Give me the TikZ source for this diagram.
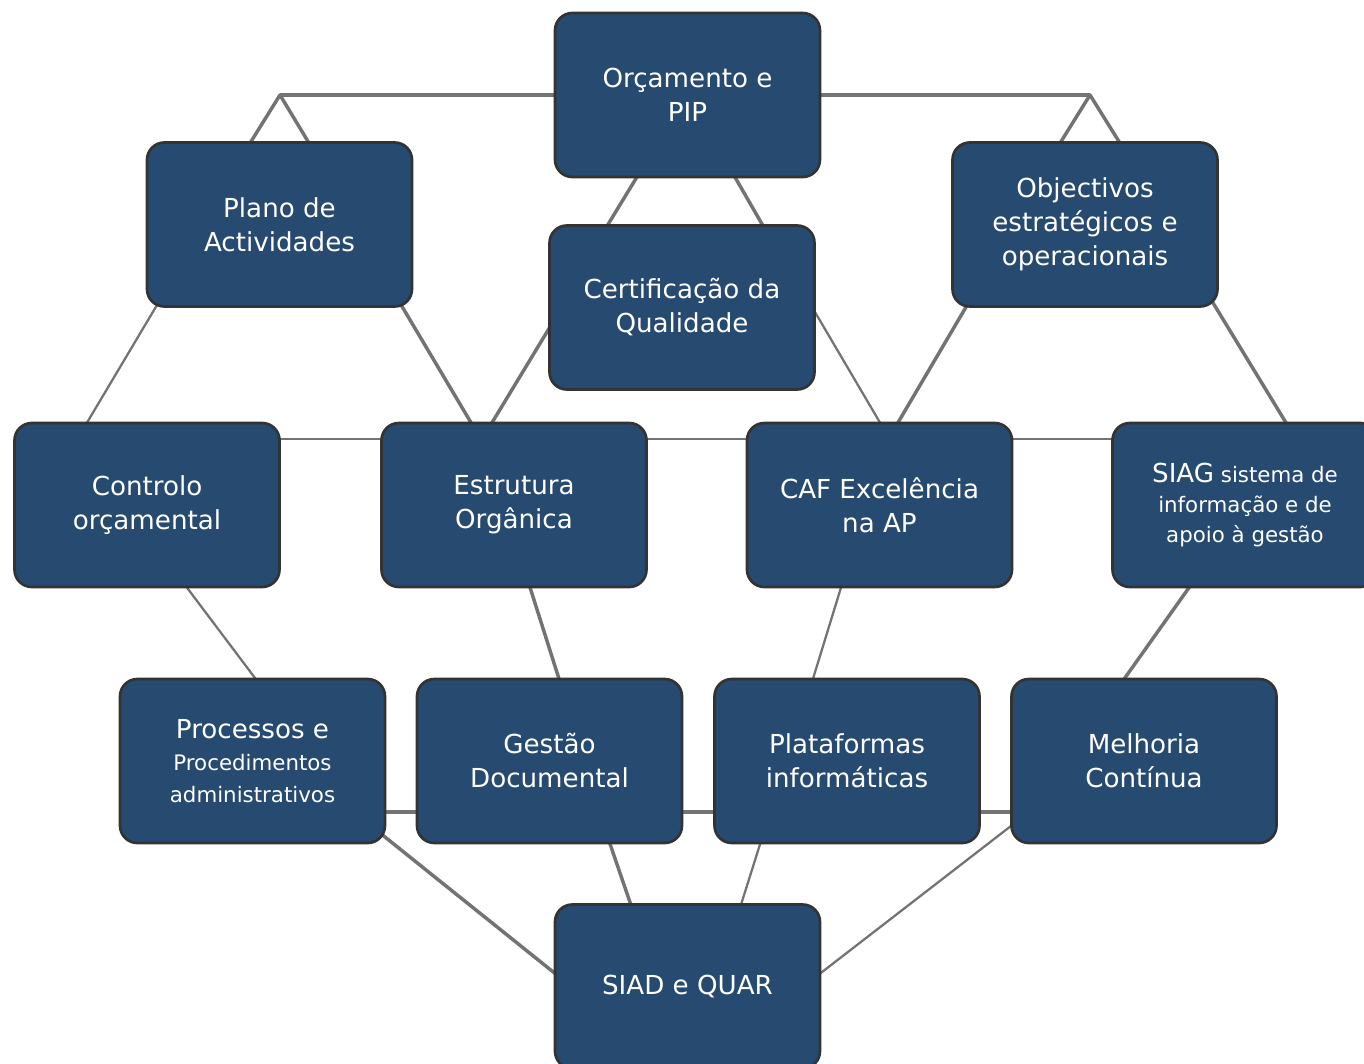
\documentclass[tikz,border=0pt]{standalone}
\usepackage{fontspec}
\setmainfont{DejaVu Sans}
\usetikzlibrary{calc,backgrounds}
\definecolor{boxfill}{RGB}{38,74,112}
\definecolor{boxline}{RGB}{51,51,51}
\definecolor{linkgray}{RGB}{115,115,115}
\newcommand\bigtxt{\fontsize{19.6}{25.5}\selectfont}

\begin{document}
\begin{tikzpicture}[x=0.75pt,y=-0.75pt,
  unit/.style={draw=boxline, line width=2pt, fill=boxfill, rounded corners=13pt,
    minimum width=198.75pt, minimum height=123pt, inner sep=0pt,
    align=center, text=white, font=\bigtxt},
  link/.style={draw=linkgray, line width=2.6pt, line join=round},
  thinlink/.style={draw=linkgray, line width=1.7pt, line join=round}]

\useasboundingbox (0,0) rectangle (1364,1064);
\clip (0,0) rectangle (1364,1064);

% top
\node[unit] (orc) at (687.5,95) {Orçamento e\\PIP};
% second tier
\node[unit] (plano) at (279.5,224.5) {Plano de\\Actividades};
\node[unit] (obj) at (1085,224.5) {Objectivos\\estratégicos e\\operacionais};
\node[unit] (cert) at (682,307.5) {Certificação da\\Qualidade};
% middle row
\node[unit] (ctrl) at (147,505) {Controlo\\orçamental};
\node[unit] (estr) at (514,505) {Estrutura\\Orgânica};
\node[unit] (caf) at (879.5,505) {CAF Excelência\\na AP};
\node[unit, font=\fontsize{16}{22.5}\selectfont] (siag) at (1245,505)
  {{\fontsize{19.6}{22.5}\selectfont SIAG} sistema de\\informação e de\\apoio à gestão};
% lower row
\node[unit, font=\fontsize{16}{24}\selectfont] (proc) at (252.5,761)
  {{\fontsize{19.6}{24}\selectfont Processos e}\\Procedimentos\\administrativos};
\node[unit] (gest) at (549.5,761) {Gestão\\Documental};
\node[unit] (plat) at (847,761) {Plataformas\\informáticas};
\node[unit] (mel) at (1144,761) {Melhoria\\Contínua};
% bottom
\node[unit] (siad) at (687.5,986.5) {SIAD e QUAR};

% apexes of the two tents above the second tier
\coordinate (apexL) at (280,95);
\coordinate (apexR) at (1090,95);

\begin{scope}[on background layer]
  % tents
  \draw[link] (orc.center) -- (apexL);
  \draw[link] ($(plano)+(-32.5,-76.5)$) -- (apexL) -- ($(plano)+(32.5,-76.5)$);
  \draw[link] (orc.center) -- (apexR);
  \draw[link] ($(obj)+(-28,-76.5)$) -- (apexR) -- ($(obj)+(38,-76.5)$);
  % top to certification
  \draw[link] ($(orc)+(-47.5,77)$) -- ($(cert)+(-78,-76.5)$);
  \draw[link] ($(orc)+(44.5,77)$) -- ($(cert)+(84,-76.5)$);
  % second tier to middle row
  \draw[thinlink] ($(plano)+(-119.5,75.5)$) -- ($(ctrl)+(-62,-79)$);
  \draw[link] ($(plano)+(117.5,73.5)$) -- ($(estr)+(-41,-79)$);
  \draw[link] ($(cert)+(-129,14.5)$) -- ($(estr)+(-24,-79)$);
  \draw[thinlink] ($(cert)+(130,-0.5)$) -- ($(caf)+(2.5,-79)$);
  \draw[link] ($(obj)+(-116,77.5)$) -- ($(caf)+(16.5,-79)$);
  \draw[link] ($(obj)+(122,68.5)$) -- ($(siag)+(43,-79)$);
  % middle row links
  \draw[thinlink] ($(ctrl)+(120,-66)$) -- ($(estr)+(-120,-66)$);
  \draw[thinlink] ($(estr)+(120,-66)$) -- ($(caf)+(-120,-66)$);
  \draw[thinlink] ($(caf)+(120,-66)$) -- ($(siag)+(-120,-66)$);
  % middle row to lower row
  \draw[thinlink] ($(ctrl)+(35,76)$) -- ($(proc)+(5.5,-79)$);
  \draw[link] ($(estr)+(14,76)$) -- ($(gest)+(10.5,-79)$);
  \draw[thinlink] ($(caf)+(-36.5,76)$) -- ($(plat)+(-35,-79)$);
  \draw[link] ($(siag)+(-52,77)$) -- ($(mel)+(-22,-79)$);
  % lower row links
  \draw[link] ($(proc)+(120,51)$) -- ($(gest)+(-120,51)$);
  \draw[link] ($(gest)+(120,51)$) -- ($(plat)+(-120,51)$);
  \draw[link] ($(plat)+(120,51)$) -- ($(mel)+(-120,51)$);
  % lower row to bottom
  \draw[link] ($(proc)+(117.5,64)$) -- ($(siad)+(-125.5,-7.5)$);
  \draw[link] ($(gest)+(58.5,77)$) -- ($(siad)+(-54.5,-75.5)$);
  \draw[thinlink] ($(plat)+(-85,77)$) -- ($(siad)+(51.5,-75.5)$);
  \draw[thinlink] ($(mel)+(-124,58)$) -- ($(siad)+(125.5,-7.5)$);
\end{scope}
\end{tikzpicture}
\end{document}
